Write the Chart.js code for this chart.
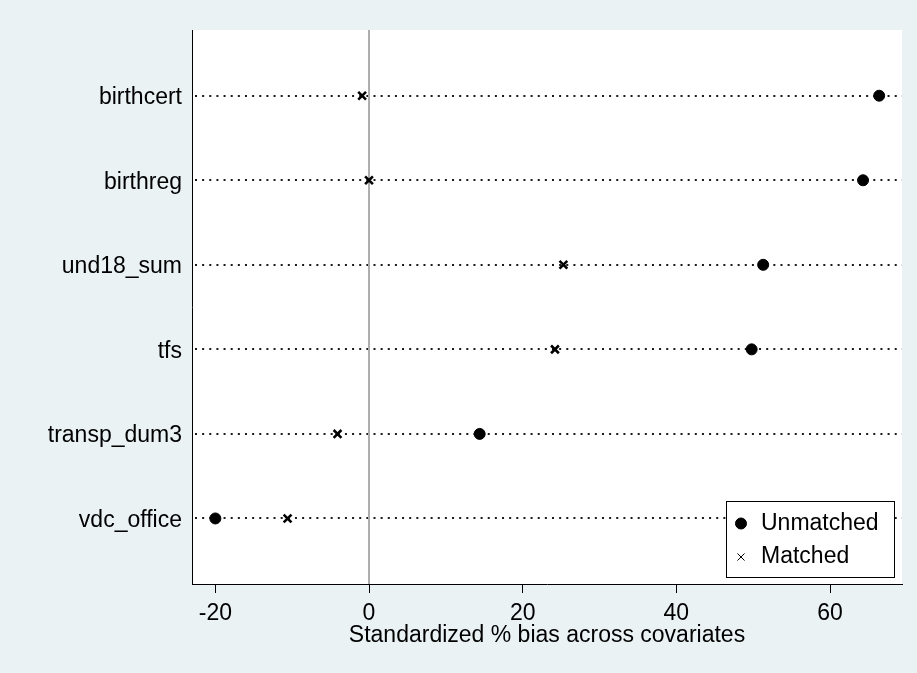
<!DOCTYPE html>
<html>
<head>
<meta charset="utf-8">
<title>Standardized % bias across covariates</title>
<script src="https://cdn.jsdelivr.net/npm/chart.js@4/dist/chart.umd.min.js"></script>
<style>
  html, body { margin: 0; padding: 0; background: #EAF2F3; }
  #wrap { width: 917px; height: 673px; position: relative; }
  canvas { display: block; }
</style>
</head>
<body>
<div id="wrap"><canvas id="chart" width="917" height="673"></canvas></div>
<script>
// Covariates, top to bottom
const covariates = ['birthcert', 'birthreg', 'und18_sum', 'tfs', 'transp_dum3', 'vdc_office'];
// Standardized % bias before and after matching
const unmatched = [66.4, 64.3, 51.3, 49.8, 14.4, -20.0];
const matched = [-0.9, 0.0, 25.3, 24.2, -4.1, -10.6];
// Axis tick values
const xTicks = [-20, 0, 20, 40, 60];
const seriesNames = ['Unmatched', 'Matched'];

const FONT = '"Liberation Sans", Arial, Helvetica, sans-serif';
Chart.defaults.font.family = FONT;
Chart.defaults.color = '#000';

// Background, white plot region, dotted row guides and the zero reference line
const plotDecor = {
  id: 'plotDecor',
  beforeDraw(chart) {
    const { ctx, chartArea: a } = chart;
    ctx.save();
    ctx.fillStyle = '#EAF2F3';
    ctx.fillRect(0, 0, chart.width, chart.height);
    ctx.fillStyle = '#FFFFFF';
    ctx.fillRect(a.left, a.top, a.right - a.left, a.bottom - a.top);
    ctx.restore();
  },
  beforeDatasetsDraw(chart) {
    const { ctx, chartArea: a, scales: { x, y } } = chart;
    ctx.save();
    ctx.strokeStyle = '#1a1a1a';
    ctx.lineWidth = 2;
    ctx.setLineDash([2, 5.14]);
    covariates.forEach((_, i) => {
      const py = Math.round(y.getPixelForValue(i));
      ctx.beginPath();
      ctx.moveTo(a.left + 3, py);
      ctx.lineTo(a.right, py);
      ctx.stroke();
    });
    ctx.setLineDash([]);
    const px0 = x.getPixelForValue(0);
    ctx.strokeStyle = '#ADADAD';
    ctx.lineWidth = 2;
    ctx.beginPath();
    ctx.moveTo(px0, a.top);
    ctx.lineTo(px0, a.bottom);
    ctx.stroke();
    ctx.restore();
  }
};

// Boxed legend in the lower right of the plot region
const boxLegend = {
  id: 'boxLegend',
  afterDatasetsDraw(chart) {
    const { ctx, chartArea: a } = chart;
    const w = 168, h = 76;
    const bx = a.right - 8 - w, by = a.bottom - 7 - h;
    ctx.save();
    ctx.fillStyle = '#FFFFFF';
    ctx.fillRect(bx, by, w, h);
    ctx.strokeStyle = '#000';
    ctx.lineWidth = 1;
    ctx.strokeRect(Math.round(bx) + 0.5, Math.round(by) + 0.5, w, h);
    const rows = [by + 22.5, by + 56];
    chart.data.datasets.forEach((ds, i) => {
      const my = rows[i];
      ctx.fillStyle = '#000';
      ctx.strokeStyle = '#000';
      Chart.helpers.drawPoint(ctx, {
        pointStyle: ds.pointStyle,
        radius: i === 0 ? 5.5 : 5,
        borderWidth: i === 0 ? 1 : 2.2,
        rotation: 0
      }, bx + 15, my);
      ctx.fillStyle = '#000';
      ctx.font = '23px ' + FONT;
      ctx.textAlign = 'left';
      ctx.textBaseline = 'middle';
      ctx.fillText(ds.label, bx + 35, my);
    });
    ctx.restore();
  }
};

new Chart(document.getElementById('chart'), {
  type: 'scatter',
  data: {
    datasets: [
      {
        label: seriesNames[0],
        data: covariates.map((c, i) => ({ x: unmatched[i], y: i })),
        pointStyle: 'circle',
        pointRadius: 5.5,
        pointBorderWidth: 1,
        backgroundColor: '#000',
        borderColor: '#000'
      },
      {
        label: seriesNames[1],
        data: covariates.map((c, i) => ({ x: matched[i], y: i })),
        pointStyle: 'crossRot',
        pointRadius: 5.5,
        pointBorderWidth: 2.6,
        backgroundColor: '#000',
        borderColor: '#000'
      }
    ]
  },
  options: {
    responsive: false,
    devicePixelRatio: 1,
    animation: false,
    layout: { padding: { left: 0, right: 15, top: 30, bottom: 0 } },
    plugins: {
      legend: { display: false },
      tooltip: { enabled: false }
    },
    scales: {
      x: {
        type: 'linear',
        position: 'bottom',
        min: -23.04,
        max: 69.37,
        afterBuildTicks: s => { s.ticks = xTicks.map(v => ({ value: v })); },
        afterFit: s => { s.height = 89; },
        grid: { drawOnChartArea: false, drawTicks: true, tickLength: 9, tickColor: '#000', tickWidth: 1 },
        border: { display: true, color: '#000', width: 1 },
        ticks: { color: '#000', font: { size: 23 }, padding: 7, maxRotation: 0 },
        title: {
          display: true,
          text: 'Standardized % bias across covariates',
          color: '#000',
          font: { size: 23 },
          padding: { top: 0, bottom: 24 }
        }
      },
      y: {
        type: 'linear',
        position: 'left',
        reverse: true,
        min: -0.777,
        max: 5.775,
        afterBuildTicks: s => { s.ticks = covariates.map((_, i) => ({ value: i })); },
        afterFit: s => { s.width = 192; },
        grid: { drawOnChartArea: false, drawTicks: false },
        border: { display: true, color: '#000', width: 1 },
        ticks: {
          color: '#000',
          font: { size: 23 },
          padding: 10,
          labelOffset: 2,
          callback: v => covariates[v]
        }
      }
    }
  },
  plugins: [plotDecor, boxLegend]
});
</script>
</body>
</html>
